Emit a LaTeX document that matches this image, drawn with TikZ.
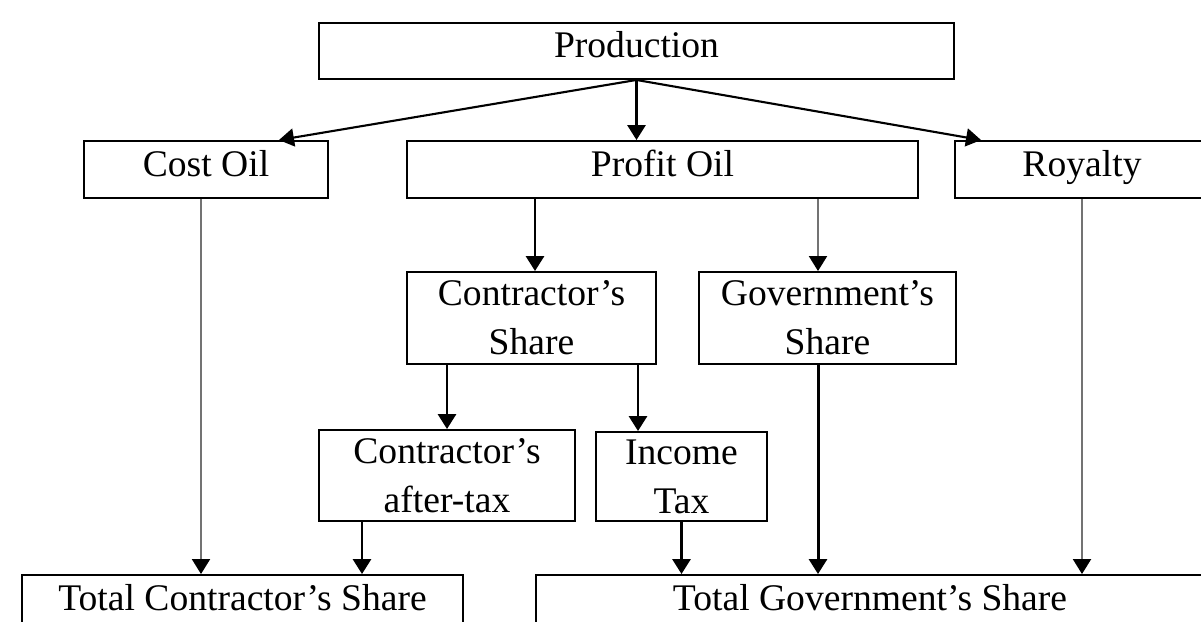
\documentclass[tikz,border=0pt]{standalone}
\usepackage{fontspec}
\setmainfont{Liberation Serif}
\usetikzlibrary{arrows.meta,positioning}

\begin{document}
\begin{tikzpicture}[
  x=0.02cm, y=-0.02cm,
  every node/.style={draw, rectangle, line width=1.1pt, inner sep=0pt, align=center,
    font=\fontsize{21.4}{28}\selectfont},
  oneline/.style={text height=14pt, text depth=6.5pt},
  flow/.style={-{Triangle[length=0.3cm,width=0.36cm]}, line width=1.7pt},
  slim/.style={-{Triangle[length=0.3cm,width=0.36cm]}, line width=1.2pt},
  grey/.style={-{Triangle[length=0.3cm,width=0.36cm,color=black]}, line width=1.2pt, draw=black!55}
]
\useasboundingbox (0,0) rectangle (1201,622);

% Level 0
\node (prod) [oneline, minimum width=12.7cm, minimum height=1.12cm] at (636.5,51) {Production};

% Level 1
\node (cost)    [oneline, minimum width=4.88cm,  minimum height=1.14cm] at (206,169.5)  {Cost Oil};
\node (profit)  [oneline, minimum width=10.22cm, minimum height=1.14cm] at (662.5,169.5) {Profit Oil};
\node (royalty) [oneline, minimum width=5.08cm,  minimum height=1.14cm] at (1082,169.5) {Royalty};

% Level 2
\node (cshare) [minimum width=4.98cm, minimum height=1.84cm] at (531.5,318) {Contractor’s\\Share};
\node (gshare) [minimum width=5.14cm, minimum height=1.84cm] at (827.5,318) {Government’s\\Share};

% Level 3
\node (after) [minimum width=5.12cm, minimum height=1.82cm] at (447,475.5) {Contractor’s\\after-tax};
\node (itax)  [minimum width=3.42cm, minimum height=1.78cm] at (681.5,476.5) {Income\\Tax};

% Level 4
\node (tcs) [oneline, minimum width=8.82cm,  minimum height=1.14cm] at (242.5,603.5) {Total Contractor’s Share};
\node (tgs) [oneline, minimum width=13.36cm, minimum height=1.14cm] at (870,603.5) {Total Government’s Share};

% Taps
\coordinate (ctap) at (535,0);
\coordinate (gtap) at (818,0);
\coordinate (ttap) at (638,0);
\coordinate (otap) at (201,0);
\coordinate (atap) at (362,0);

% Edges
\draw[slim] (prod.south) -- ([xshift=-1cm]cost.north east);
\draw[flow] (prod.south) -- (prod.south |- profit.north);
\draw[slim] (prod.south) -- ([xshift=0.54cm]royalty.north west);

\draw[flow] (ctap |- profit.south) -- (ctap |- cshare.north);
\draw[grey] (gtap |- profit.south) -- (gtap |- gshare.north);

\draw[flow] (after.north |- cshare.south) -- (after.north);
\draw[flow] (ttap |- cshare.south) -- (ttap |- itax.north);

\draw[grey] (otap |- cost.south) -- (otap |- tcs.north);
\draw[flow] (atap |- after.south) -- (atap |- tcs.north);
\draw[flow] (itax.south) -- (itax.south |- tgs.north);
\draw[flow] (gtap |- gshare.south) -- (gtap |- tgs.north);
\draw[grey] (royalty.south) -- (royalty.south |- tgs.north);

\end{tikzpicture}
\end{document}
